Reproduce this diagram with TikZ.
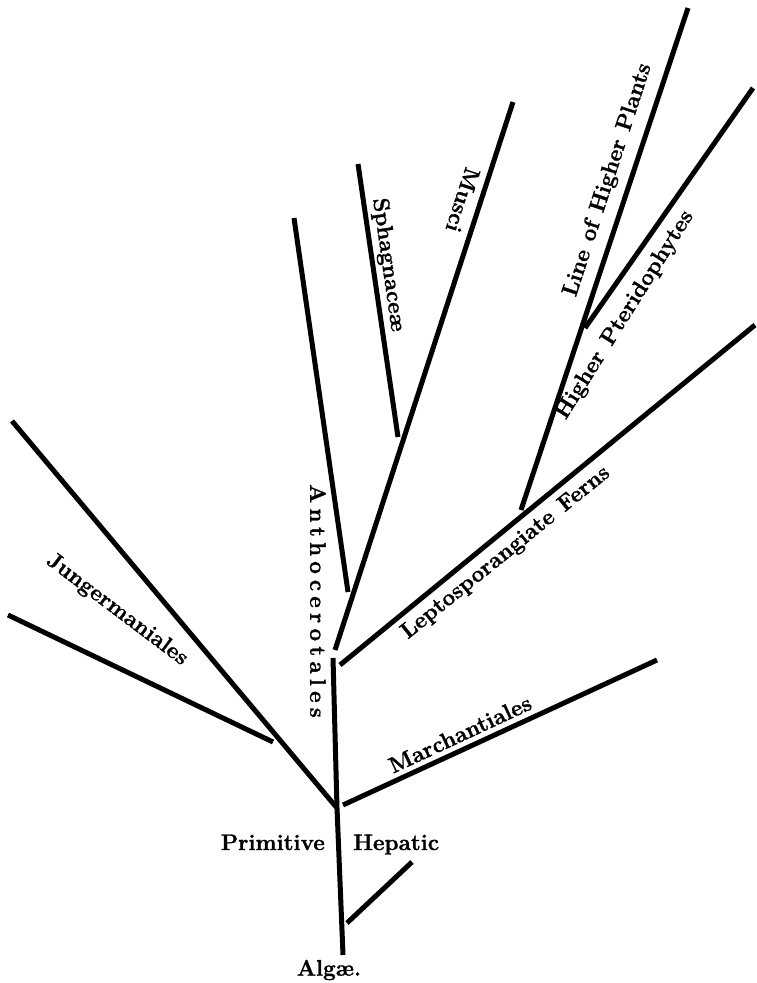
\documentclass[tikz,border=0pt]{standalone}
\usepackage{fontspec}
\setmainfont{Latin Modern Roman}[BoldFeatures={FakeBold=1.2}]
\begin{document}
\begin{tikzpicture}[x=1pt,y=-1pt,
  br/.style={line width=5pt},
  lab/.style={font=\fontsize{22.5}{26}\selectfont\bfseries, inner sep=0pt}]
\useasboundingbox (0,0) rectangle (756,983);
% coordinates
\coordinate (a0) at (343,955);
\coordinate (a1) at (337,808);
\coordinate (a2) at (333,658);
\coordinate (s1) at (347,923);
\coordinate (s2) at (412,862);
\coordinate (m1) at (343,805);
\coordinate (m2) at (657,660);
\coordinate (j0) at (12,421);
\coordinate (k1) at (273,742);
\coordinate (k0) at (8,615);
\coordinate (l1) at (340,665);
\coordinate (l2) at (755,325);
\coordinate (mu1) at (335,650);
\coordinate (mu2) at (513,102);
\coordinate (an1) at (348,592);
\coordinate (an2) at (294,218);
\coordinate (sp1) at (398,437);
\coordinate (sp2) at (358,164);
\coordinate (hp1) at (521,510);
\coordinate (hp2) at (688,8);
\coordinate (pt1) at (585,328);
\coordinate (pt2) at (753,88);
% branches
\draw[br] (a0) -- (a1) -- (a2);
\draw[br] (s1) -- (s2);
\draw[br] (m1) -- (m2);
\draw[br] (a1) -- (j0);
\draw[br] (k1) -- (k0);
\draw[br] (l1) -- (l2);
\draw[br] (mu1) -- (mu2);
\draw[br] (an1) -- (an2);
\draw[br] (sp1) -- (sp2);
\draw[br] (hp1) -- (hp2);
\draw[br] (pt1) -- (pt2);
% labels
\node[lab] (alg) at (329,970) {Algæ.};
\node[lab, anchor=base east] (prim) at (325,850) {Primitive};
\node[lab, anchor=base west] (hep) at (353,850) {Hepatic};
\node[lab, rotate=25] (mar) at (460,734) {Marchantiales};
\node[lab, rotate=-37] (jun) at (117,610) {Jungermaniales};
\node[lab, rotate=39] (lep) at (506,553) {Leptosporangiate\hspace{11pt}Ferns};
\node[lab, rotate=-90] (ant) at (318,601) {\addfontfeature{LetterSpace=23}Anthocerotales};
\node[lab, rotate=-82] (sph) at (388,265) {Sphagnaceæ};
\node[lab, rotate=-108] (mus) at (463,200) {Musci};
\node[lab, rotate=72] (lhp) at (608,180) {Line\hspace{10pt}of\hspace{10pt}Higher\hspace{10pt}Plants};
\node[lab, rotate=58] (hpt) at (625,315) {Higher\hspace{11pt}Pteridophytes};
\end{tikzpicture}
\end{document}
